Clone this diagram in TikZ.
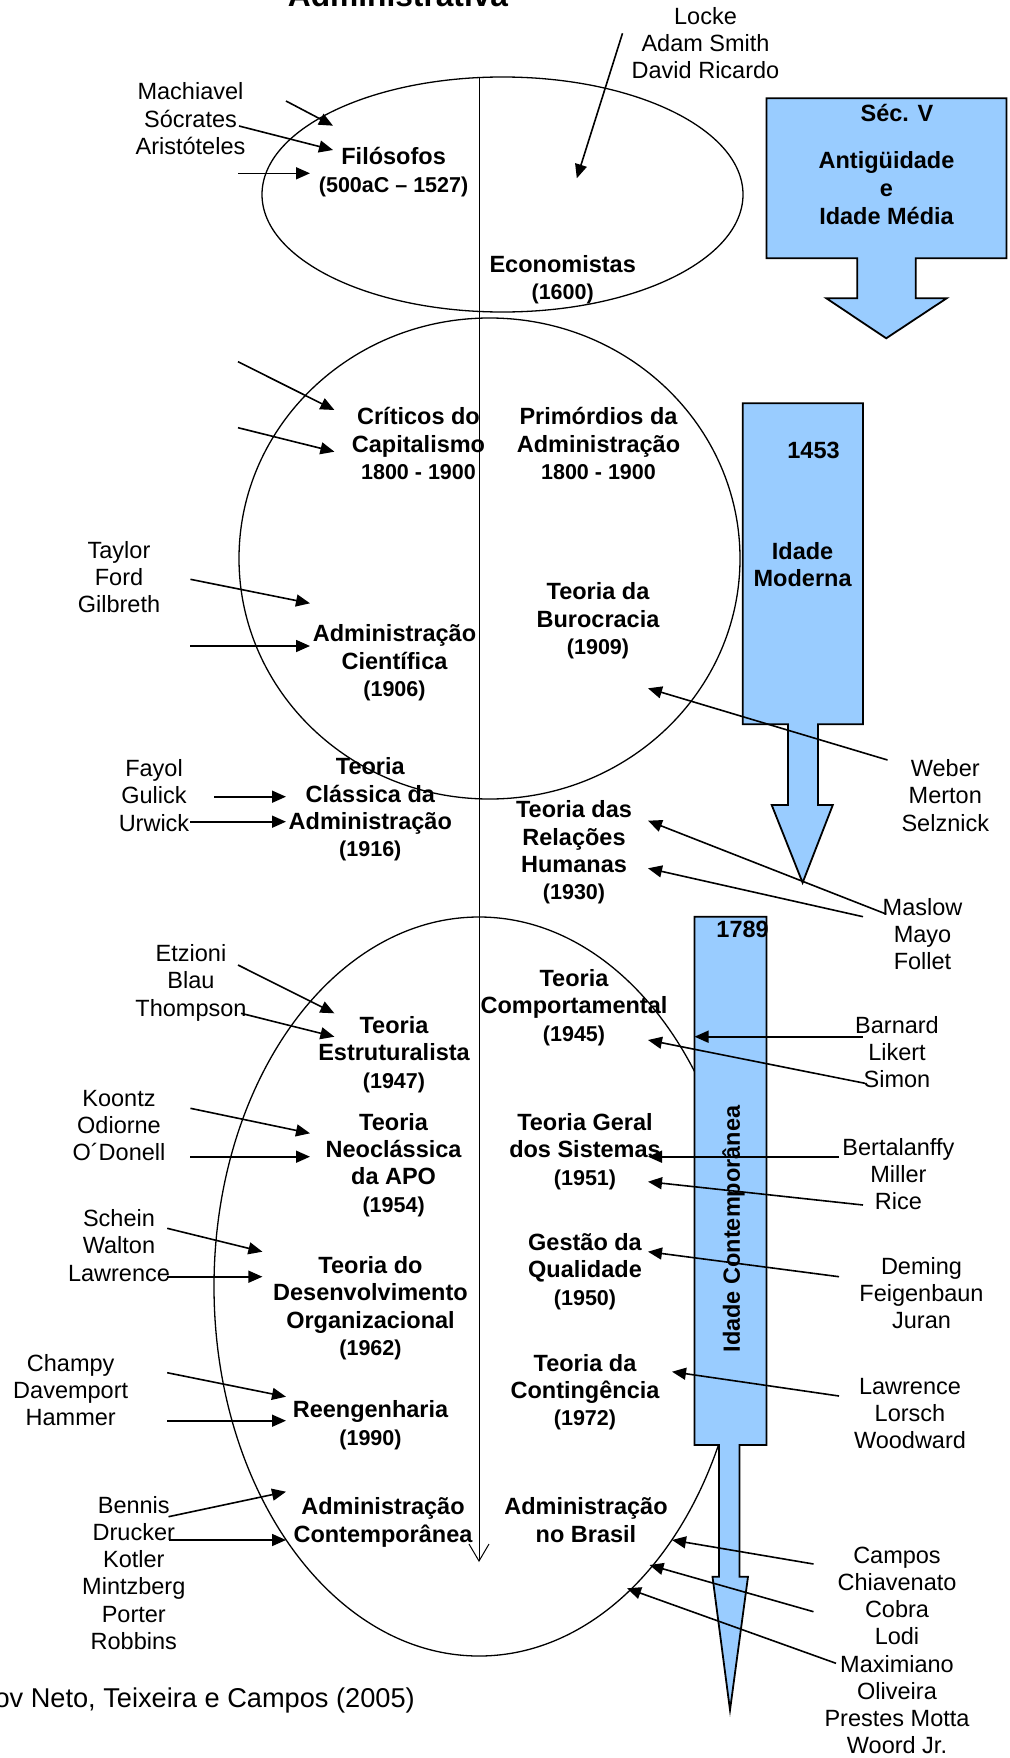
\documentclass[tikz,border=0pt]{standalone}
\usepackage{fontspec}
\setmainfont{Liberation Sans}
\usetikzlibrary{arrows.meta}
\definecolor{boxblue}{RGB}{153,204,255}
\newcommand{\smallyr}[1]{{\fontsize{21.5}{27.3}\selectfont #1}}
\begin{document}
\begin{tikzpicture}[x=1pt,y=-1pt,
  nm/.style={font=\fontsize{23.5}{27.2}\selectfont, align=center, inner sep=0pt, anchor=base},
  tp/.style={font=\bfseries\fontsize{23.5}{27.3}\selectfont, align=center, inner sep=0pt, anchor=base},
  arr/.style={line width=1.6pt, -{Triangle[length=14pt,width=12pt]}},
  oval/.style={line width=1.3pt},
  bluebox/.style={fill=boxblue, draw=black, line width=1.8pt, line join=miter},
]
\useasboundingbox (0,0) rectangle (1009,1758);

% ovals
\draw[oval] (502.5,194.5) ellipse [x radius=240.5pt, y radius=117.5pt];
\draw[oval] (489.5,558.5) ellipse [x radius=250.5pt, y radius=240.5pt];
\draw[oval] (479,1286.5) ellipse [x radius=265pt, y radius=369.5pt];

% central time axis
\coordinate (vtop) at (479,77);
\coordinate (vbot) at (479,1562);
\draw[line width=1pt, -{Straight Barb[length=17pt,width=20pt]}] (vtop) -- (vbot);

% blue era arrows
\draw[bluebox] (766.5,98.3) -- (1006.4,98.3) -- (1006.4,258.3) -- (915.8,258.3) -- (915.8,298.3) -- (946.6,298.3) -- (886.2,338.3) -- (826.4,298.3) -- (857.2,298.3) -- (857.2,258.3) -- (766.5,258.3) -- cycle;
\draw[bluebox] (742.7,403.3) -- (863,403.3) -- (863,724.3) -- (818,724.3) -- (818,805) -- (832.8,805) -- (802.6,882.7) -- (771.7,805) -- (788,805) -- (788,724.3) -- (742.7,724.3) -- cycle;
\draw[bluebox] (694.5,916.7) -- (766.5,916.7) -- (766.5,1445) -- (739.5,1445) -- (739.5,1576.7) -- (748,1576.7) -- (730,1710) -- (712.5,1576.7) -- (719,1576.7) -- (719,1445) -- (694.5,1445) -- cycle;

% title and caption
\node[tp, font=\bfseries\fontsize{31.7}{36}\selectfont] (title) at (398,7) {Administrativa};
\node[nm, anchor=base east, font=\fontsize{27.2}{30}\selectfont] (caption) at (415,1707) {nov Neto, Teixeira e Campos (2005)};

% era labels (anchor base = baseline of last line)
\node[tp] (secv) at (897,121.7) {Séc. V};
\node[tp, font=\bfseries\fontsize{23.5}{28}\selectfont] (antig) at (886.5,224.5) {Antigüidade\\e\\Idade Média};
\node[tp] (y1453) at (813.5,458.3) {1453};
\node[tp] (moder) at (802.6,586.7) {Idade\\Moderna};
\node[tp] (y1789) at (742.6,937.3) {1789};
\node[tp, anchor=center, rotate=90] (contemp) at (733.5,1229) {Idade Contemporânea};

% topics
\node[tp] (fil) at (393.6,192) {Filósofos\\\smallyr{(500aC – 1527)}};
\node[tp] (eco) at (562.7,299.5) {Economistas\\\smallyr{(1600)}};
\node[tp] (crit) at (418.5,479.3) {Críticos do\\Capitalismo\\\smallyr{1800 - 1900}};
\node[tp] (prim) at (598.5,479.3) {Primórdios da\\Administração\\\smallyr{1800 - 1900}};
\node[tp] (cient) at (394.5,696.5) {Administração\\Científica\\\smallyr{(1906)}};
\node[tp] (buro) at (598,654.5) {Teoria da\\Burocracia\\\smallyr{(1909)}};
\node[tp] (clas) at (370.3,856.8) {Teoria\\Clássica da\\Administração\\\smallyr{(1916)}};
\node[tp] (rel) at (574,899.8) {Teoria das\\Relações\\Humanas\\\smallyr{(1930)}};
\node[tp] (estr) at (394,1088) {Teoria\\Estruturalista\\\smallyr{(1947)}};
\node[tp] (comp) at (574,1041) {Teoria\\Comportamental\\\smallyr{(1945)}};
\node[tp] (neo) at (393.6,1212) {Teoria\\Neoclássica\\da APO\\\smallyr{(1954)}};
\node[tp] (tgs) at (585,1185) {Teoria Geral\\dos Sistemas\\\smallyr{(1951)}};
\node[tp] (dorg) at (370.5,1355.5) {Teoria do\\Desenvolvimento\\Organizacional\\\smallyr{(1962)}};
\node[tp] (qual) at (585,1305) {Gestão da\\Qualidade\\\smallyr{(1950)}};
\node[tp] (reen) at (370.5,1445) {Reengenharia\\\smallyr{(1990)}};
\node[tp] (conting) at (585,1425.8) {Teoria da\\Contingência\\\smallyr{(1972)}};
\node[tp] (admc) at (383,1542) {Administração\\Contemporânea};
\node[tp] (admb) at (586,1542) {Administração\\no Brasil};

% authors
\node[nm] (philn) at (190.5,154.4) {Machiavel\\Sócrates\\Aristóteles};
\node[nm] (econn) at (705.5,78.7) {Locke\\Adam Smith\\David Ricardo};
\node[nm] (taylorn) at (119,612.7) {Taylor\\Ford\\Gilbreth};
\node[nm] (fayoln) at (154,831.1) {Fayol\\Gulick\\Urwick};
\node[nm] (webern) at (945.3,831.1) {Weber\\Merton\\Selznick};
\node[nm] (maslown) at (922.5,969.4) {Maslow\\Mayo\\Follet};
\node[nm] (etzn) at (191,1016.1) {Etzioni\\Blau\\Thompson};
\node[nm] (barnn) at (897,1087.7) {Barnard\\Likert\\Simon};
\node[nm] (koonn) at (119,1160.4) {Koontz\\Odiorne\\O´Donell};
\node[nm] (bertn) at (898.4,1209.4) {Bertalanffy\\Miller\\Rice};
\node[nm] (schn) at (119,1281.1) {Schein\\Walton\\Lawrence};
\node[nm] (demn) at (921.5,1328.7) {Deming\\Feigenbaun\\Juran};
\node[nm] (chan) at (70.7,1425.4) {Champy\\Davemport\\Hammer};
\node[nm] (lawn) at (910,1448.7) {Lawrence\\Lorsch\\Woodward};
\node[nm] (benn) at (133.8,1649.3) {Bennis\\Drucker\\Kotler\\Mintzberg\\Porter\\Robbins};
\node[nm] (camn) at (897,1753.7) {Campos\\Chiavenato\\Cobra\\Lodi\\Maximiano\\Oliveira\\Prestes Motta\\Woord Jr.};

% arrow end points
\coordinate (a1s) at (286,101);     \coordinate (a1e) at (333,125.7);
\coordinate (a2s) at (239,126);     \coordinate (a2e) at (333,150);
\coordinate (a3s) at (238,173.3);   \coordinate (a3e) at (310,173.3);
\coordinate (a4s) at (622.5,33.3);  \coordinate (a4e) at (576.8,178.3);
\coordinate (a5s) at (238,361.7);   \coordinate (a5e) at (334.4,410);
\coordinate (a6s) at (238,427.7);   \coordinate (a6e) at (334.4,451.7);
\coordinate (a7s) at (190.4,579.3); \coordinate (a7e) at (310,603.3);
\coordinate (a8s) at (190.4,646);   \coordinate (a8e) at (310,646);
\coordinate (a9s) at (887.5,760);   \coordinate (a9e) at (648,688.3);
\coordinate (a10s) at (214,796.7);  \coordinate (a10e) at (286,796.7);
\coordinate (a11s) at (190.4,821.7); \coordinate (a11e) at (286,821.7);
\coordinate (a12s) at (886,914);    \coordinate (a12e) at (648,820.7);
\coordinate (a13s) at (863,916.7);  \coordinate (a13e) at (648,868.3);
\coordinate (a14s) at (238,965);    \coordinate (a14e) at (334.4,1013.3);
\coordinate (a15s) at (241,1013.3); \coordinate (a15e) at (334.4,1036.7);
\coordinate (a16s) at (863,1036.7); \coordinate (a16e) at (694.5,1036.7);
\coordinate (a17s) at (865,1083.3); \coordinate (a17e) at (648,1040);
\coordinate (a18s) at (190.4,1108.3); \coordinate (a18e) at (310,1133.3);
\coordinate (a19s) at (190.4,1156.7); \coordinate (a19e) at (310,1156.7);
\coordinate (a20s) at (839,1156.7); \coordinate (a20e) at (648,1156.7);
\coordinate (a21s) at (863,1205);   \coordinate (a21e) at (648,1181.7);
\coordinate (a22s) at (167.2,1228.3); \coordinate (a22e) at (262.4,1251.7);
\coordinate (a23s) at (167.2,1276.7); \coordinate (a23e) at (262.4,1276.7);
\coordinate (a24s) at (839,1276.7); \coordinate (a24e) at (648,1251.7);
\coordinate (a25s) at (167.2,1372.7); \coordinate (a25e) at (286,1396.7);
\coordinate (a26s) at (167.2,1420.7); \coordinate (a26e) at (286,1420.7);
\coordinate (a27s) at (839,1396);   \coordinate (a27e) at (672,1371.7);
\coordinate (a28s) at (168.5,1516.7); \coordinate (a28e) at (286,1491.7);
\coordinate (a29s) at (168.5,1540); \coordinate (a29e) at (286,1540);
\coordinate (a30s) at (813.5,1564); \coordinate (a30e) at (672,1540);
\coordinate (a31s) at (813.5,1611.7); \coordinate (a31e) at (649.5,1565);
\coordinate (a32s) at (836,1663.3); \coordinate (a32e) at (627,1588.3);

\foreach \i in {1,...,32} {\draw[arr] (a\i s) -- (a\i e);}
\end{tikzpicture}
\end{document}
